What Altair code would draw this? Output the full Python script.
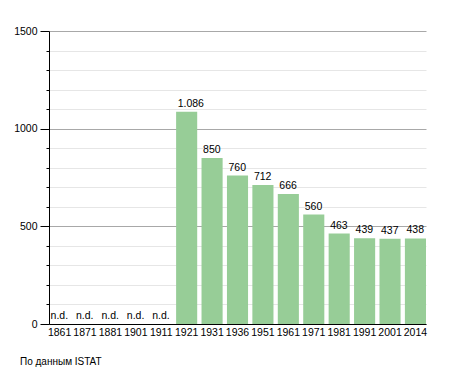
import altair as alt
import pandas as pd

years = ["1861", "1871", "1881", "1901", "1911", "1921", "1931", "1936",
         "1951", "1961", "1971", "1981", "1991", "2001", "2014"]
population = [None, None, None, None, None, 1086, 850, 760,
              712, 666, 560, 463, 439, 437, 438]
source_note = "По данным ISTAT"

def fmt(v):
    if v is None:
        return "n.d."
    return f"{v:,}".replace(",", ".")

df = pd.DataFrame({
    "year": years,
    "pop": [v if v is not None else 0 for v in population],
    "label": [fmt(v) for v in population],
})

FONT = "Liberation Sans"

x = alt.X("year:N", sort=years,
          scale=alt.Scale(paddingInner=0.17, paddingOuter=0),
          axis=alt.Axis(title=None, labelAngle=0, ticks=False, domain=True,
                        domainColor="#000000", labelFont=FONT, labelFontSize=10.5,
                        labelColor="#000000", labelPadding=3, labelOverlap=False))

y = alt.Y("pop:Q", scale=alt.Scale(domain=[0, 1500], nice=False),
          axis=alt.Axis(title=None, values=list(range(0, 1501, 100)),
                        labelExpr="datum.value % 500 === 0 ? datum.label : ''",
                        labelOverlap=False, format="d",
                        grid=True,
                        gridColor={"expr": "datum.value % 500 === 0 ? '#a8a8a8' : '#e6e6e6'"},
                        tickSize={"expr": "datum.value % 500 === 0 ? 9 : 3"},
                        tickColor="#000000", domainColor="#000000",
                        labelFont=FONT, labelFontSize=10.5, labelColor="#000000",
                        labelPadding=3))

bars = alt.Chart(df).mark_bar(color="#97cd97").encode(x=x, y=y)

texts = alt.Chart(df).mark_text(align="left", baseline="bottom", dx=-9, dy=-3,
                                font=FONT, fontSize=10.5, color="#000000").encode(
    x=x, y=y, text="label:N")

chart = alt.layer(bars, texts).properties(
    width=377, height=293,
    title=alt.TitleParams(source_note, orient="bottom", anchor="start", frame="group",
                          dx=-29, offset=19, fontSize=10, fontWeight="normal",
                          font=FONT, color="#000000"),
    padding={"left": 41, "top": 23, "right": 10, "bottom": 45},
    autosize=alt.AutoSizeParams(type="none"),
).configure_view(stroke=None).configure_axis(domainWidth=1)

chart.save("out.html", embed_options={"renderer": "svg", "actions": False})
